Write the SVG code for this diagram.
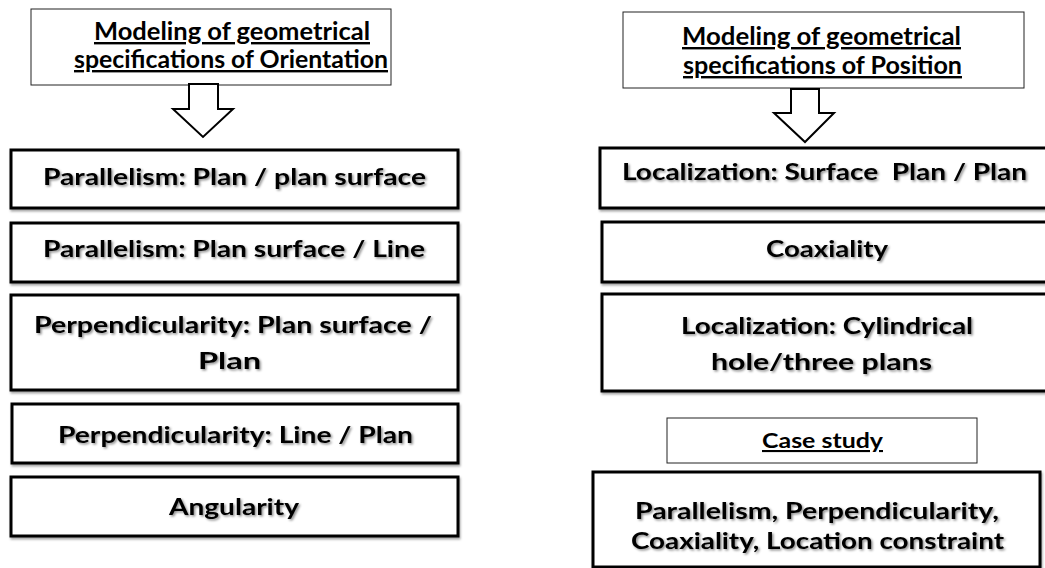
<svg xmlns="http://www.w3.org/2000/svg" width="1045" height="568" viewBox="0 0 1045 568">
  <defs>
    <filter id="soft" x="-5%" y="-20%" width="115%" height="150%">
      <feDropShadow dx="1.5" dy="1.5" stdDeviation="1" flood-color="#000" flood-opacity="0.45"/>
    </filter>
    <filter id="boxshadow" x="-5%" y="-20%" width="115%" height="150%">
      <feDropShadow dx="1" dy="2" stdDeviation="1.2" flood-color="#000" flood-opacity="0.35"/>
    </filter>
    <style>
      .head { fill: #fff; stroke: #222; stroke-width: 1; }
      .box { fill: #fff; stroke: #000; stroke-width: 3; filter: url(#boxshadow); }
      .ht { font-family: Lato, "Open Sans", "Liberation Sans", sans-serif; font-weight: 700; font-size: 24px; fill: #000; text-decoration: underline; }
      .bt { font-family: Lato, "Open Sans", "Liberation Sans", sans-serif; font-weight: 700; font-size: 23px; fill: #000; filter: url(#soft); }
      .cs { font-family: Lato, "Open Sans", "Liberation Sans", sans-serif; font-weight: 700; font-size: 21px; fill: #000; text-decoration: underline; }
      .arrow { fill: #fff; stroke: #000; stroke-width: 2; stroke-linejoin: miter; }
    </style>
  </defs>
  <rect width="1045" height="568" fill="#fff"/>

  <!-- Orientation column -->
  <g id="orientation-header">
    <rect class="head" x="31" y="9" width="360" height="76"/>
    <text class="ht" x="94" y="40" textLength="276" lengthAdjust="spacingAndGlyphs">Modeling of geometrical</text>
    <text class="ht" x="74" y="68" textLength="314" lengthAdjust="spacingAndGlyphs">specifications of Orientation</text>
  </g>
  <g id="parallelism-plan-plan">
    <rect class="box" x="11" y="150" width="447" height="58"/>
    <text class="bt" x="43" y="185" textLength="383" lengthAdjust="spacingAndGlyphs">Parallelism: Plan / plan surface</text>
  </g>
  <g id="parallelism-plan-line">
    <rect class="box" x="11" y="223" width="447" height="59"/>
    <text class="bt" x="43" y="257" textLength="382" lengthAdjust="spacingAndGlyphs">Parallelism: Plan surface / Line</text>
  </g>
  <g id="perpendicularity-plan-plan">
    <rect class="box" x="11" y="295" width="447" height="95"/>
    <text class="bt" x="34" y="333" textLength="398" lengthAdjust="spacingAndGlyphs">Perpendicularity: Plan surface /</text>
    <text class="bt" x="198" y="369" textLength="63" lengthAdjust="spacingAndGlyphs">Plan</text>
  </g>
  <g id="perpendicularity-line-plan">
    <rect class="box" x="12" y="404" width="446" height="59"/>
    <text class="bt" x="58" y="443" textLength="355" lengthAdjust="spacingAndGlyphs">Perpendicularity: Line / Plan</text>
  </g>
  <g id="angularity">
    <rect class="box" x="11" y="477" width="447" height="59"/>
    <text class="bt" x="169" y="515" textLength="130" lengthAdjust="spacingAndGlyphs">Angularity</text>
  </g>

  <!-- Position column -->
  <g id="position-header">
    <rect class="head" x="623" y="12" width="401" height="76"/>
    <text class="ht" x="682" y="45" textLength="279" lengthAdjust="spacingAndGlyphs">Modeling of geometrical</text>
    <text class="ht" x="683" y="74" textLength="279" lengthAdjust="spacingAndGlyphs">specifications of Position</text>
  </g>
  <g id="localization-plan-plan">
    <rect class="box" x="600" y="148" width="460" height="60"/>
    <text class="bt" x="622" y="180" textLength="405" lengthAdjust="spacingAndGlyphs" xml:space="preserve">Localization: Surface  Plan / Plan</text>
  </g>
  <g id="coaxiality">
    <rect class="box" x="602" y="222" width="458" height="60"/>
    <text class="bt" x="766" y="257" textLength="122" lengthAdjust="spacingAndGlyphs">Coaxiality</text>
  </g>
  <g id="localization-cylindrical">
    <rect class="box" x="602" y="294" width="458" height="97"/>
    <text class="bt" x="681" y="334" textLength="292" lengthAdjust="spacingAndGlyphs">Localization: Cylindrical</text>
    <text class="bt" x="711" y="370" textLength="221" lengthAdjust="spacingAndGlyphs">hole/three plans</text>
  </g>
  <g id="case-study">
    <rect class="head" x="667" y="418" width="310" height="45"/>
    <text class="cs" x="762" y="448" textLength="121" lengthAdjust="spacingAndGlyphs">Case study</text>
  </g>
  <g id="case-study-constraints">
    <rect class="box" x="593" y="472" width="447" height="95"/>
    <text class="bt" x="635" y="519" textLength="364" lengthAdjust="spacingAndGlyphs">Parallelism, Perpendicularity,</text>
    <text class="bt" x="631" y="549" textLength="373" lengthAdjust="spacingAndGlyphs">Coaxiality, Location constraint</text>
  </g>

  <!-- Block arrows from each header to its list -->
  <g id="connectors">
    <path class="arrow" d="M189,84 L218,84 L218,109 L233,109 L203,137 L173,109 L189,109 Z"/>
    <path class="arrow" d="M791,89 L819,89 L819,113 L834,113 L805,142 L774,113 L791,113 Z"/>
  </g>
</svg>
